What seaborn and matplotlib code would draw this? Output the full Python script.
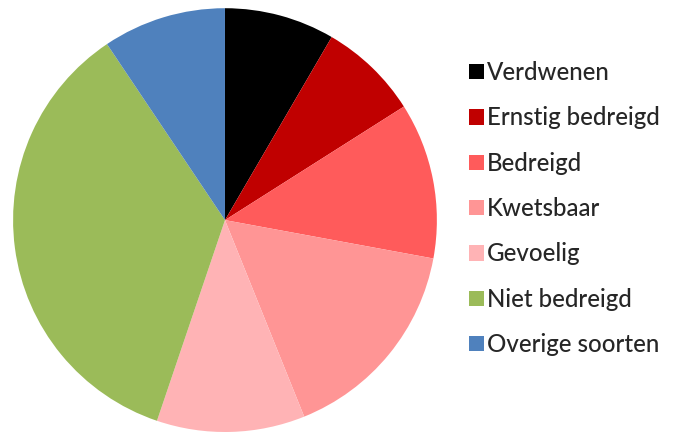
import matplotlib
matplotlib.use("Agg")
import matplotlib.pyplot as plt
import seaborn as sns
from matplotlib.patches import Patch

sns.set_theme(style="white")
plt.rcParams['font.family'] = ['Lato', 'DejaVu Sans']

categories = ["Verdwenen", "Ernstig bedreigd", "Bedreigd", "Kwetsbaar",
              "Gevoelig", "Niet bedreigd", "Overige soorten"]
values = [8.4, 7.6, 11.9, 16.0, 11.3, 35.4, 9.4]
colors = ["#000000", "#C00000", "#FF5B5B", "#FF9595", "#FFB3B5", "#9BBB59", "#4F81BD"]

fig = plt.figure(figsize=(6.75, 4.32), dpi=100)
ax = fig.add_axes([0.0193, 0.0, 0.628, 0.981])
ax.pie(values, colors=colors, startangle=90, counterclock=False,
       radius=1.0, wedgeprops=dict(linewidth=0))
ax.set_xlim(-1, 1)
ax.set_ylim(-1, 1)
ax.set_aspect('equal')
ax.axis('off')

handles = [Patch(facecolor=c, edgecolor='none') for c in colors]
fig.legend(handles, categories, loc='upper left', bbox_to_anchor=(0.681, 0.881),
           frameon=False, handlelength=0.6, handleheight=0.6,
           handletextpad=0.14, labelspacing=0.93, borderaxespad=0,
           prop=dict(family=['Lato', 'DejaVu Sans'], size=17.3, weight='medium'))

fig.savefig("out.png", dpi=100)
